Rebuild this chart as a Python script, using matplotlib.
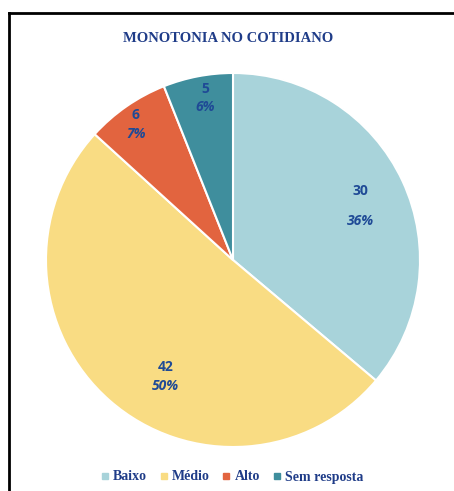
import numpy as np
import matplotlib.pyplot as plt
from matplotlib.lines import Line2D

categories = ["Baixo", "Médio", "Alto", "Sem resposta"]
values = [30, 42, 6, 5]
pct_labels = ["36%", "50%", "7%", "6%"]
colors = ["#A8D3DA", "#F9DC83", "#E2643F", "#3F8E9D"]

# label placement (radius fraction, angle nudge in degrees)
label_r = [0.74, 0.72, 0.89, 0.88]
label_nudge = [-2, 11, 1, -1]

W, H = 454, 491
fig = plt.figure(figsize=(W / 100, H / 100), dpi=100)

cx, cy, R = 233, 260, 187
ax = fig.add_axes([(cx - R) / W, (H - cy - R) / H, 2 * R / W, 2 * R / H])
wedges, _ = ax.pie(values, colors=colors, startangle=90, counterclock=False,
                   wedgeprops=dict(edgecolor="white", linewidth=1.5))
ax.set_xlim(-1, 1)
ax.set_ylim(-1, 1)
ax.set_aspect("equal")

txt_col = "#1F4A96"
for w, v, p, r, nd in zip(wedges, values, pct_labels, label_r, label_nudge):
    ang = np.deg2rad((w.theta1 + w.theta2) / 2 + nd)
    x, y = r * np.cos(ang), r * np.sin(ang)
    gap = 0.08 if v == 30 else 0.05
    ax.text(x, y + gap, str(v), ha="center", va="center", fontsize=10,
            fontweight="bold", color=txt_col, family="Open Sans")
    ax.text(x, y - gap, p, ha="center", va="center", fontsize=10,
            fontweight="bold", style="italic", color=txt_col, family="Open Sans")

fig.text(228 / W, 1 - 39 / H, "MONOTONIA NO COTIDIANO", ha="center", va="center",
         fontsize=10.5, fontweight="bold", color="#1F3C88", family="Liberation Serif")

handles = [Line2D([], [], marker="s", linestyle="none", markersize=4,
                  markerfacecolor=c, markeredgecolor=c) for c in colors]
leg = fig.legend(handles, categories, loc="center", bbox_to_anchor=(232 / W, 1 - 477 / H),
                 ncol=4, frameon=False, handlelength=0.6, handletextpad=0.3,
                 columnspacing=0.9, prop=dict(family="Liberation Serif", weight="bold", size=10))
for t in leg.get_texts():
    t.set_color("#1F3C88")

# frame lines (left and top)
fig.add_artist(Line2D([9 / W, 9 / W], [0, 1 - 13 / H], color="black", linewidth=2))
fig.add_artist(Line2D([9 / W, 1], [1 - 13 / H, 1 - 13 / H], color="black", linewidth=2))

fig.savefig("out.png", dpi=100)
